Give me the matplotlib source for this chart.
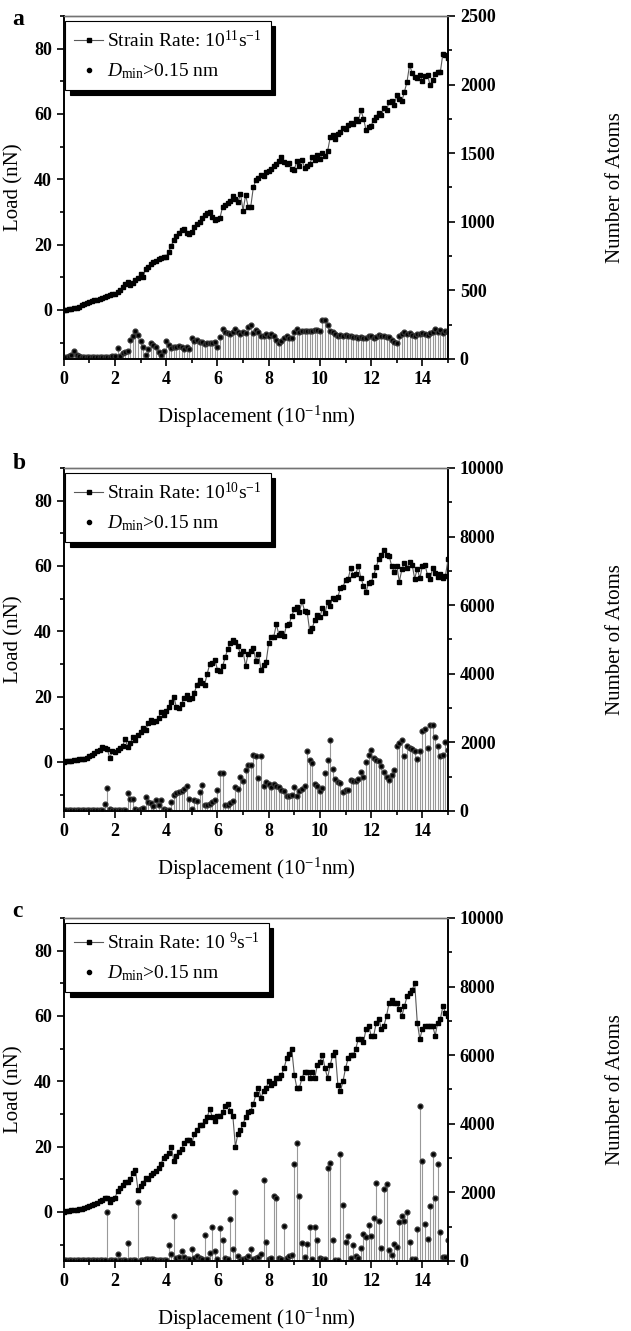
import numpy as np
import matplotlib
matplotlib.use("Agg")
from matplotlib import pyplot as plt
from matplotlib.lines import Line2D
from matplotlib.ticker import MultipleLocator

plt.rcParams['font.family'] = ['Liberation Serif', 'DejaVu Serif']
plt.rcParams['mathtext.fontset'] = 'custom'
plt.rcParams['mathtext.rm'] = 'Liberation Serif'
plt.rcParams['mathtext.it'] = 'Liberation Serif:italic'
plt.rcParams['mathtext.bf'] = 'Liberation Serif:bold'

#------ data (x step 0.1, from 0 to 15) ------
load_a = [0.0, 0.1, 0.2, 0.3, 0.5, 0.7, 1.0, 1.4, 1.8, 2.2,
          2.5, 2.7, 2.9, 3.1, 3.3, 3.6, 3.9, 4.2, 4.5, 4.8,
          5.0, 5.6, 6.2, 7.0, 7.9, 8.7, 7.5, 8.2, 9.2, 9.8,
          10.9, 10.2, 12.6, 13.3, 14.0, 14.6, 15.1, 15.5, 16.0, 16.3,
          16.3, 17.8, 19.7, 21.5, 22.6, 23.7, 24.6, 24.8, 23.6, 23.2,
          24.0, 25.3, 26.4, 26.9, 28.3, 29.2, 29.8, 30.0, 28.4, 27.4,
          27.8, 28.3, 31.5, 32.2, 32.8, 33.3, 35.0, 34.1, 33.0, 35.6,
          30.4, 35.2, 31.5, 31.6, 37.5, 39.8, 40.5, 41.2, 41.0, 42.1,
          42.6, 43.3, 44.0, 44.6, 45.5, 46.9, 45.2, 44.7, 45.0, 43.3,
          43.0, 45.6, 44.0, 45.8, 43.6, 44.1, 44.6, 46.8, 45.9, 47.3,
          46.2, 48.0, 47.1, 48.6, 52.8, 53.6, 52.4, 54.0, 54.5, 55.6,
          55.3, 56.6, 57.2, 56.8, 58.4, 57.8, 61.2, 58.6, 55.1, 56.0,
          56.4, 58.3, 59.2, 60.4, 59.6, 61.8, 61.2, 63.6, 64.1, 62.8,
          65.7, 64.6, 64.0, 66.8, 69.9, 75.0, 72.6, 71.4, 71.0, 71.8,
          70.2, 71.6, 72.0, 68.8, 70.5, 72.2, 73.0, 72.8, 78.5, 78.1,
          77.2]
atoms_a = [10, 15, 20, 30, 55, 30, 20, 15, 15, 15,
           15, 15, 15, 15, 15, 15, 15, 15, 15, 20,
           25, 80, 20, 40, 50, 60, 140, 170, 205, 175,
           130, 85, 30, 70, 120, 100, 90, 50, 30, 60,
           130, 100, 80, 90, 85, 95, 90, 70, 90, 70,
           150, 130, 140, 125, 125, 110, 115, 120, 115, 125,
           90, 160, 215, 200, 190, 185, 200, 220, 195, 180,
           200, 190, 230, 245, 190, 210, 195, 170, 165, 180,
           170, 180, 170, 140, 120, 130, 150, 170, 150, 155,
           200, 215, 200, 205, 205, 205, 205, 205, 210, 210,
           205, 285, 285, 245, 205, 195, 180, 170, 175, 170,
           175, 165, 170, 160, 160, 155, 160, 155, 155, 170,
           165, 150, 160, 175, 165, 170, 160, 160, 135, 125,
           120, 165, 180, 200, 185, 190, 175, 170, 185, 180,
           190, 185, 175, 190, 200, 215, 200, 210, 190, 205,
           195]

load_b = [0.0, 0.2, 0.3, 0.4, 0.6, 0.7, 0.8, 0.9, 1.0, 1.3,
          1.7, 2.2, 2.8, 3.4, 3.7, 4.5, 4.3, 3.9, 1.2, 3.5,
          3.0, 3.8, 4.2, 5.0, 7.0, 4.6, 5.8, 7.6, 6.6, 8.3,
          9.1, 10.3, 9.9, 11.8, 13.0, 12.1, 12.6, 13.6, 15.2, 14.3,
          15.7, 16.9, 18.5, 19.9, 16.7, 16.5, 17.7, 19.7, 20.4, 19.2,
          19.7, 21.2, 23.7, 25.0, 24.2, 23.7, 27.0, 30.0, 30.3, 31.3,
          28.3, 28.0, 29.3, 32.0, 34.5, 36.3, 37.4, 36.6, 35.5, 33.0,
          33.9, 29.3, 33.2, 34.1, 35.0, 30.8, 33.2, 28.3, 29.7, 30.6,
          36.3, 38.4, 38.4, 42.1, 38.9, 39.4, 38.7, 42.0, 42.2, 44.8,
          46.7, 47.5, 46.0, 49.2, 46.3, 46.0, 40.2, 41.0, 43.5, 45.0,
          44.5, 47.0, 45.5, 49.0, 47.8, 50.2, 49.8, 50.5, 53.3, 53.5,
          55.8, 56.0, 59.3, 57.3, 57.6, 60.0, 56.3, 54.0, 52.0, 54.8,
          55.0, 57.2, 59.8, 62.2, 63.5, 65.0, 63.4, 63.2, 60.0, 58.2,
          60.1, 55.2, 59.0, 61.0, 59.3, 61.2, 60.3, 56.1, 59.2, 56.2,
          60.0, 60.4, 57.2, 56.0, 59.4, 58.0, 56.5, 57.5, 56.3, 57.0,
          62.0]
atoms_b = [40, 40, 40, 40, 40, 40, 40, 40, 40, 40,
           40, 40, 40, 40, 40, 40, 200, 680, 60, 40,
           40, 40, 30, 30, 40, 520, 340, 340, 50, 30,
           50, 100, 400, 250, 230, 150, 320, 180, 330, 50,
           30, 30, 270, 480, 520, 540, 580, 640, 740, 340,
           60, 330, 300, 560, 770, 180, 170, 200, 250, 330,
           620, 1100, 1100, 180, 170, 230, 280, 690, 650, 1000,
           880, 1200, 1330, 1330, 1640, 1600, 950, 1610, 720, 850,
           800, 700, 800, 740, 690, 610, 570, 440, 440, 470,
           700, 440, 580, 640, 720, 1750, 1500, 1390, 800, 720,
           570, 660, 1110, 1480, 2060, 1220, 930, 850, 820, 550,
           610, 600, 900, 860, 860, 920, 1140, 1000, 1420, 1620,
           1790, 1550, 1500, 1450, 1300, 1150, 1000, 900, 1050, 1200,
           1880, 1980, 2060, 1610, 1900, 1850, 1800, 1760, 1510, 1750,
           2330, 2400, 1850, 2510, 2500, 2150, 1900, 1600, 1620, 2000,
           1790]

load_c = [0.0, 0.2, 0.4, 0.5, 0.6, 0.7, 0.8, 1.0, 1.2, 1.5,
          1.8, 2.0, 2.3, 2.7, 3.3, 3.7, 4.3, 4.3, 3.1, 3.9,
          4.4, 6.3, 7.2, 8.2, 9.1, 9.3, 10.1, 12.0, 13.0, 6.6,
          7.9, 9.0, 10.5, 10.0, 11.2, 12.0, 12.6, 13.5, 14.8, 16.6,
          17.0, 18.0, 20.0, 15.5, 17.0, 18.5, 19.2, 21.0, 22.0, 22.0,
          21.0, 24.0, 25.0, 26.5, 26.5, 28.0, 29.0, 31.6, 29.0, 28.0,
          29.5, 29.5, 30.5, 32.5, 33.0, 31.0, 29.5, 20.0, 24.0, 25.0,
          27.0, 29.0, 30.5, 31.0, 33.0, 36.0, 38.0, 35.0, 37.0, 38.0,
          40.0, 39.0, 39.5, 41.0, 41.0, 42.0, 44.0, 47.0, 48.5, 50.0,
          42.0, 38.0, 38.0, 41.0, 43.0, 43.0, 41.0, 43.0, 41.0, 45.0,
          46.0, 48.0, 44.0, 41.0, 45.0, 48.0, 49.0, 39.0, 37.0, 40.0,
          44.0, 47.0, 48.0, 48.0, 50.0, 53.0, 53.0, 52.0, 56.0, 57.0,
          54.0, 54.0, 58.0, 59.0, 56.0, 57.0, 60.0, 64.0, 65.0, 64.0,
          64.0, 62.0, 60.0, 63.0, 66.0, 67.0, 68.0, 70.0, 58.0, 53.0,
          56.0, 57.0, 57.0, 57.0, 57.0, 54.0, 58.0, 59.0, 63.0, 61.0,
          60.0]
atoms_c = [40, 40, 40, 40, 40, 40, 40, 40, 40, 40,
           40, 40, 40, 40, 40, 40, 40, 1420, 40, 40,
           40, 210, 40, 40, 40, 520, 40, 40, 40, 1730,
           40, 40, 50, 60, 60, 50, 40, 40, 40, 40,
           40, 480, 190, 1300, 80, 110, 280, 120, 60, 50,
           340, 100, 140, 80, 60, 760, 60, 230, 980, 290,
           60, 960, 600, 80, 70, 1230, 360, 2000, 160, 40,
           60, 100, 150, 340, 60, 100, 120, 200, 2370, 550,
           70, 80, 1900, 1850, 80, 70, 1030, 90, 160, 170,
           2840, 3450, 1900, 520, 120, 500, 1000, 70, 1000, 620,
           90, 70, 60, 2700, 2870, 620, 40, 40, 3110, 1630,
           550, 715, 80, 480, 135, 90, 380, 790, 700, 1060,
           740, 1250, 2270, 1180, 380, 2100, 2240, 310, 165, 500,
           400, 1130, 1320, 1160, 1440, 550, 70, 70, 920, 4530,
           2920, 1080, 650, 1600, 3130, 1830, 2820, 840, 115, 115,
           600]

rate_labels = ['Strain Rate: 10$^{11}$s$^{-1}$',
               'Strain Rate: 10$^{10}$s$^{-1}$',
               'Strain Rate: 10 $^{9}$s$^{-1}$']
panel_letters = ['a', 'b', 'c']
atom_max = [2500, 10000, 10000]
atom_major = [500, 2000, 2000]

panels = [(load_a, atoms_a), (load_b, atoms_b), (load_c, atoms_c)]
bottoms = [0.7303, 0.3907, 0.0526]
letter_y = [0.985, 0.652, 0.315]

fig = plt.figure(figsize=(6.31, 13.31), dpi=100)

for i, (load, atoms) in enumerate(panels):
    x = np.arange(len(load)) * 0.1
    ax = fig.add_axes([0.101, bottoms[i], 0.609, 0.2577])
    ax2 = ax.twinx()

    ax2.vlines(x, 0, atoms, color='0.6', lw=0.8, zorder=1)
    ax2.plot(x, atoms, 'o', ms=3.4, color='k', mec='0.2', zorder=3)
    ax.plot(x, load, '-', color='0.35', lw=0.8, marker='s', ms=3.0,
            mfc='k', mec='k', zorder=3)
    ax.set_zorder(ax2.get_zorder() + 1)
    ax.patch.set_visible(False)

    ax.set_xlim(0, 15)
    ax.set_ylim(-15, 90)
    ax2.set_ylim(0, atom_max[i])

    ax.xaxis.set_major_locator(MultipleLocator(2))
    ax.xaxis.set_minor_locator(MultipleLocator(1))
    ax.yaxis.set_major_locator(MultipleLocator(20))
    ax.yaxis.set_minor_locator(MultipleLocator(10))
    ax.set_yticks([0, 20, 40, 60, 80])
    ax2.yaxis.set_major_locator(MultipleLocator(atom_major[i]))
    ax2.yaxis.set_minor_locator(MultipleLocator(atom_major[i] / 2))

    for a in (ax, ax2):
        a.tick_params(which='major', direction='out', length=5, width=1.2,
                      labelsize=13)
        a.tick_params(which='minor', direction='out', length=3, width=1.2)
        for s in a.spines.values():
            s.set_linewidth(1.2)
        a.spines['top'].set_color('0.45')
        a.spines['top'].set_linewidth(1.0)
    ax.tick_params(top=False, which='both')
    for lab in ax.get_xticklabels() + ax.get_yticklabels() + ax2.get_yticklabels():
        lab.set_fontweight('bold')

    ax.set_ylabel('Load (nN)', fontsize=15)
    ax.yaxis.set_label_coords(-0.105, 0.5)
    ax2.set_ylabel('Number of Atoms', fontsize=15)
    ax2.yaxis.set_label_coords(1.41, 0.5)
    ax.set_xlabel('Displacement (10$^{-1}$nm)', fontsize=15)
    ax.xaxis.set_label_coords(0.5, -0.13)

    handles = [Line2D([], [], color='0.35', lw=0.8, marker='s', ms=3.0,
                      mfc='k', mec='k'),
               Line2D([], [], ls='none', marker='o', ms=3.0, color='k')]
    labels = [rate_labels[i], '$D_{\\mathrm{min}}$>0.15 nm']
    leg = ax.legend(handles, labels, loc='upper left',
                    bbox_to_anchor=(0.004, 0.985), borderaxespad=0,
                    fontsize=14, fancybox=False, framealpha=1,
                    edgecolor='k', handlelength=1.5, handletextpad=0.2,
                    borderpad=0.45, labelspacing=0.55,
                    shadow={'ox': 3.5, 'oy': -3.5, 'color': 'k', 'alpha': 1})
    leg.get_frame().set_linewidth(0.8)

    fig.text(0.02, letter_y[i], panel_letters[i], fontsize=17,
             fontweight='bold', va='center', ha='left')

plt.savefig('out.png', dpi=100)
